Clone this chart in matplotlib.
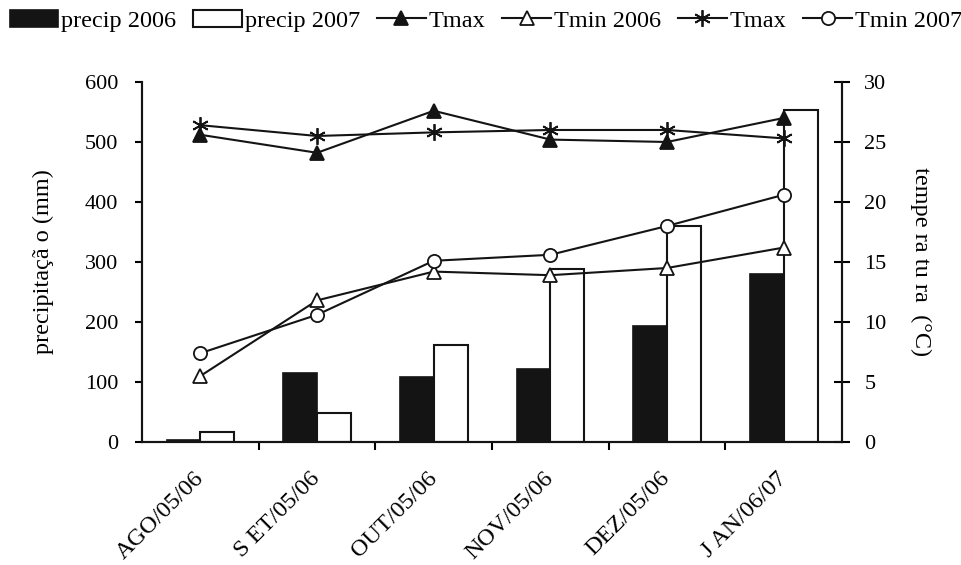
import numpy as np
import matplotlib
matplotlib.use('Agg')
import matplotlib.pyplot as plt

plt.rcParams['font.family'] = ['Liberation Serif', 'DejaVu Serif']

meses = ['AGO/05/06', 'S ET/05/06', 'OUT/05/06', 'NOV/05/06', 'DEZ/05/06', 'J AN/06/07']
precip_2006 = [4, 115, 109, 122, 193, 280]
precip_2007 = [17, 48, 162, 288, 360, 554]
tmax_2006 = [25.6, 24.1, 27.6, 25.2, 25.0, 27.0]
tmin_2006 = [5.5, 11.8, 14.2, 13.9, 14.5, 16.2]
tmax_2007 = [26.4, 25.5, 25.8, 26.0, 26.0, 25.3]
tmin_2007 = [7.4, 10.6, 15.1, 15.6, 18.0, 20.6]

fs = 16
fl = 17.5
x = np.arange(len(meses)) + 0.5
w = 0.29

fig = plt.figure(figsize=(9.61, 5.65), dpi=100)
ax = fig.add_axes([0.1478, 0.2177, 0.7284, 0.6372])
ax2 = ax.twinx()

b1 = ax.bar(x - w / 2, precip_2006, w, color='#141414', edgecolor='#141414', lw=1.2, label='precip 2006')
b2 = ax.bar(x + w / 2, precip_2007, w, color='white', edgecolor='#141414', lw=1.5, label='precip 2007')

kw = dict(color='#141414', lw=1.5, mew=1.3)
l1, = ax2.plot(x, tmax_2006, marker='^', mfc='#141414', ms=9.5, label='Tmax', **kw)
l2, = ax2.plot(x, tmin_2006, marker='^', mfc='white', ms=9.5, label='Tmin 2006', **kw)
l3, = ax2.plot(x, tmax_2007, marker=(6, 2, 0), mfc='none', ms=12, label='Tmax', **kw)
l4, = ax2.plot(x, tmin_2007, marker='o', mfc='white', ms=9.5, label='Tmin 2007', **kw)

ax.set_xlim(0, 6)
ax.set_ylim(0, 600)
ax2.set_ylim(0, 30)
ax.set_yticks(range(0, 601, 100))
ax2.set_yticks(range(0, 31, 5))

ax.set_xticks([1, 2, 3, 4, 5])
ax.set_xticklabels([])
ax.set_xticks(x, minor=True)
ax.set_xticklabels(meses, minor=True, rotation=45, ha='right', va='center',
                   rotation_mode='anchor', fontsize=fl)
ax.tick_params(axis='x', which='minor', length=0, pad=24)
ax.tick_params(axis='x', which='major', length=6, width=1.5, direction='out')
ax.tick_params(axis='y', labelsize=fs, length=5, width=1.5, direction='out', pad=12)
ax2.tick_params(axis='y', labelsize=fs, length=12, width=1.5, direction='inout', pad=10)

for a in (ax, ax2):
    a.spines['top'].set_visible(False)
    for s in a.spines.values():
        s.set_linewidth(1.5)
        s.set_color('#141414')

ax.set_ylabel('precipitaçã o (mm)', fontsize=fl, labelpad=22)
ax2.set_ylabel('tempe ra tu ra  (°C)', fontsize=fl, rotation=270, labelpad=32)

fig.legend([b1, b2, l1, l2, l3, l4],
           ['precip 2006', 'precip 2007', 'Tmax', 'Tmin 2006', 'Tmax', 'Tmin 2007'],
           loc='upper left', bbox_to_anchor=(0.0, 1.0), borderaxespad=0.1, borderpad=0.3,
           ncol=6, frameon=False, fontsize=fl, handlelength=2.0, handletextpad=0.12,
           columnspacing=0.7, markerscale=1.0)

fig.savefig('out.png', dpi=100)
